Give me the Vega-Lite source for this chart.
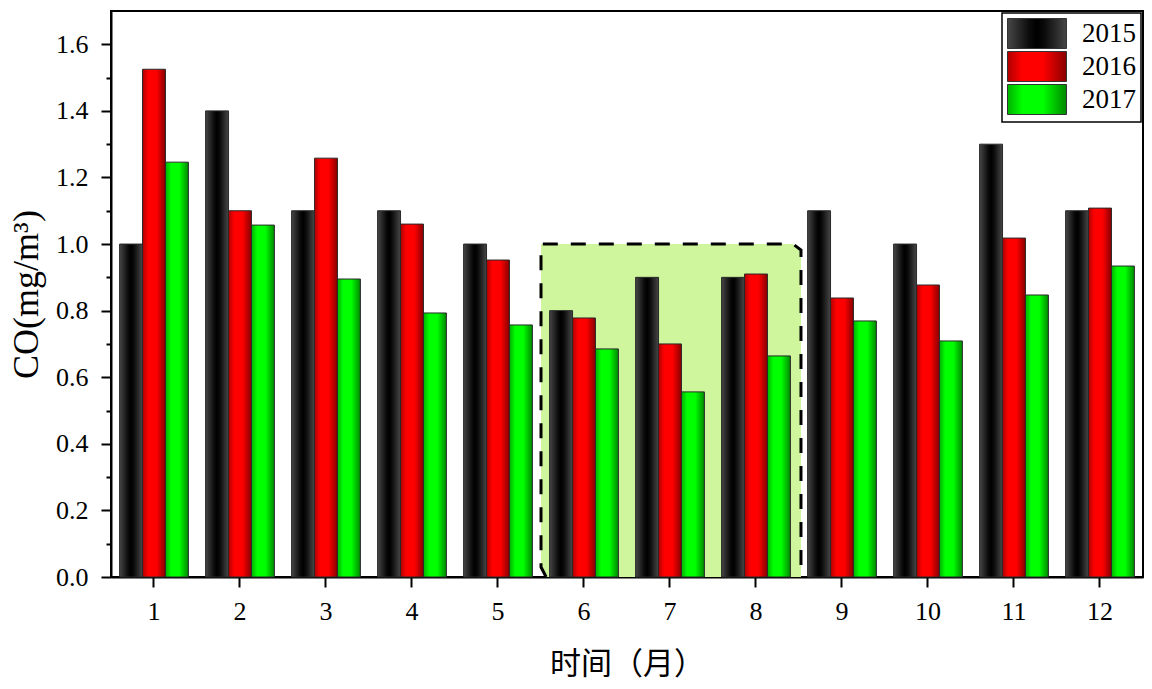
{
  "$schema": "https://vega.github.io/schema/vega-lite/v6.json",
  "width": 1032,
  "height": 566,
  "autosize": "none",
  "padding": {"left": 111, "top": 11, "right": 9, "bottom": 112},
  "background": "white",
  "config": {"view": {"stroke": "black", "strokeWidth": 2}, "font": "Liberation Serif", "legend": {"strokeWidth": 1.5}},
  "datasets": {
    "co": [
      {"month": 1, "year": "2015", "value": 1.0}, {"month": 1, "year": "2016", "value": 1.525}, {"month": 1, "year": "2017", "value": 1.246},
      {"month": 2, "year": "2015", "value": 1.4}, {"month": 2, "year": "2016", "value": 1.1}, {"month": 2, "year": "2017", "value": 1.057},
      {"month": 3, "year": "2015", "value": 1.1}, {"month": 3, "year": "2016", "value": 1.258}, {"month": 3, "year": "2017", "value": 0.895},
      {"month": 4, "year": "2015", "value": 1.1}, {"month": 4, "year": "2016", "value": 1.06}, {"month": 4, "year": "2017", "value": 0.793},
      {"month": 5, "year": "2015", "value": 1.0}, {"month": 5, "year": "2016", "value": 0.952}, {"month": 5, "year": "2017", "value": 0.757},
      {"month": 6, "year": "2015", "value": 0.8}, {"month": 6, "year": "2016", "value": 0.778}, {"month": 6, "year": "2017", "value": 0.685},
      {"month": 7, "year": "2015", "value": 0.9}, {"month": 7, "year": "2016", "value": 0.7}, {"month": 7, "year": "2017", "value": 0.556},
      {"month": 8, "year": "2015", "value": 0.9}, {"month": 8, "year": "2016", "value": 0.91}, {"month": 8, "year": "2017", "value": 0.664},
      {"month": 9, "year": "2015", "value": 1.1}, {"month": 9, "year": "2016", "value": 0.838}, {"month": 9, "year": "2017", "value": 0.769},
      {"month": 10, "year": "2015", "value": 1.0}, {"month": 10, "year": "2016", "value": 0.877}, {"month": 10, "year": "2017", "value": 0.709},
      {"month": 11, "year": "2015", "value": 1.3}, {"month": 11, "year": "2016", "value": 1.018}, {"month": 11, "year": "2017", "value": 0.847},
      {"month": 12, "year": "2015", "value": 1.1}, {"month": 12, "year": "2016", "value": 1.108}, {"month": 12, "year": "2017", "value": 0.934}
    ],
    "box": [
      {"x": 5.5, "ylo": 0.03, "yhi": 1.0},
      {"x": 5.56, "ylo": 0, "yhi": 1.0},
      {"x": 8.43, "ylo": 0, "yhi": 1.0},
      {"x": 8.523, "ylo": 0, "yhi": 0.982}
    ],
    "outline": [
      {"i": 1, "x": 5.56, "y": 0},
      {"i": 2, "x": 5.5, "y": 0.03},
      {"i": 3, "x": 5.5, "y": 1.0},
      {"i": 4, "x": 8.43, "y": 1.0},
      {"i": 5, "x": 8.523, "y": 0.982},
      {"i": 6, "x": 8.523, "y": 0}
    ]
  },
  "layer": [
    {
      "data": {"name": "box"},
      "mark": {"type": "area", "color": "#cff59d", "opacity": 1},
      "encoding": {
        "x": {"field": "x", "type": "quantitative", "scale": {"domain": [0.5, 12.5], "nice": false, "zero": false}, "axis": null},
        "y": {"field": "yhi", "type": "quantitative", "scale": {"domain": [0, 1.7], "nice": false},
          "axis": {"orient": "left", "values": [0.1, 0.3, 0.5, 0.7, 0.9, 1.1, 1.3, 1.5], "labels": false, "title": null, "tickSize": 5, "tickWidth": 2, "tickColor": "black", "domain": false, "grid": false}},
        "y2": {"field": "ylo"}
      }
    },
    {
      "data": {"name": "co"},
      "mark": {"type": "bar", "stroke": "#2a2a2a", "strokeWidth": 1},
      "encoding": {
        "x": {"field": "month", "type": "ordinal", "scale": {"paddingInner": 0.2, "paddingOuter": 0.1},
          "axis": {"title": "时间（月）", "labelAngle": 0, "tickSize": 10, "tickWidth": 2, "tickColor": "black", "domainColor": "black", "domainWidth": 2, "labelFont": "Liberation Serif", "labelFontSize": 26, "labelColor": "black", "labelPadding": 11, "titleFont": "Noto Sans CJK SC", "titleFontSize": 31, "titleFontWeight": "normal", "titleColor": "black", "titlePadding": 25, "grid": false}},
        "xOffset": {"field": "year", "type": "nominal", "scale": {"paddingInner": 0, "paddingOuter": 0}},
        "y": {"field": "value", "type": "quantitative", "scale": {"domain": [0, 1.7], "nice": false},
          "axis": {"orient": "left", "title": "CO(mg/m³)", "values": [0, 0.2, 0.4, 0.6, 0.8, 1.0, 1.2, 1.4, 1.6], "format": ".1f", "tickSize": 10, "tickWidth": 2, "tickColor": "black", "domainColor": "black", "domainWidth": 2, "labelFont": "Liberation Serif", "labelFontSize": 26, "labelColor": "black", "labelPadding": 13, "titleFont": "Liberation Serif", "titleFontSize": 36, "titleFontWeight": "normal", "titleColor": "black", "titlePadding": 10, "grid": false}},
        "fill": {"field": "year", "type": "nominal",
          "scale": {"domain": ["2015", "2016", "2017"], "range": [
            {"expr": "{gradient:'linear',x1:0,y1:0,x2:1,y2:0,stops:[{offset:0,color:'#474747'},{offset:0.38,color:'#0a0a0a'},{offset:0.5,color:'#000000'},{offset:0.62,color:'#0a0a0a'},{offset:1,color:'#474747'}]}"},
            {"expr": "{gradient:'linear',x1:0,y1:0,x2:1,y2:0,stops:[{offset:0,color:'#b00000'},{offset:0.25,color:'#ff0000'},{offset:0.6,color:'#ff0000'},{offset:1,color:'#880000'}]}"},
            {"expr": "{gradient:'linear',x1:0,y1:0,x2:1,y2:0,stops:[{offset:0,color:'#00b000'},{offset:0.25,color:'#00ff00'},{offset:0.6,color:'#00ff00'},{offset:1,color:'#008800'}]}"}
          ]},
          "legend": {"title": null, "orient": "top-right", "offset": 2, "padding": 5, "strokeColor": "black", "fillColor": "white", "symbolType": "M-1,-1H2.933V1H-1Z", "symbolSize": 900, "symbolStrokeColor": "#333333", "symbolStrokeWidth": 1, "symbolOpacity": 1, "labelFont": "Liberation Serif", "labelFontSize": 27, "labelColor": "black", "labelOffset": 44, "rowPadding": -2}
        }
      }
    },
    {
      "data": {"name": "outline"},
      "mark": {"type": "line", "color": "black", "strokeWidth": 3, "strokeDash": [15, 13], "strokeJoin": "miter"},
      "encoding": {
        "x": {"field": "x", "type": "quantitative", "scale": {"domain": [0.5, 12.5], "nice": false, "zero": false}, "axis": null},
        "y": {"field": "y", "type": "quantitative", "scale": {"domain": [0, 1.7], "nice": false}, "axis": null},
        "order": {"field": "i", "type": "quantitative"}
      }
    }
  ],
  "resolve": {"scale": {"x": "independent", "y": "independent"}, "axis": {"x": "independent", "y": "independent"}}
}
